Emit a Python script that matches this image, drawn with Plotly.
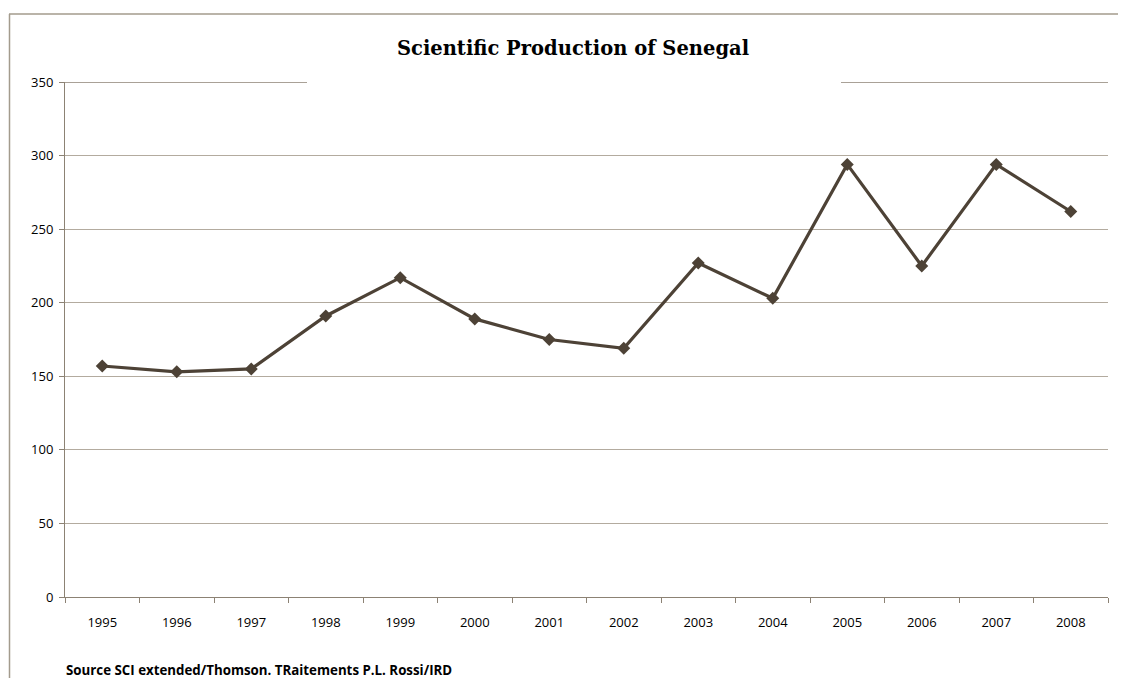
import plotly.graph_objects as go

years = ["1995", "1996", "1997", "1998", "1999", "2000", "2001",
         "2002", "2003", "2004", "2005", "2006", "2007", "2008"]
production = [157, 153, 155, 191, 217, 189, 175, 169, 227, 203, 294, 225, 294, 262]
y_ticks = [0, 50, 100, 150, 200, 250, 300, 350]
y_max = 350

# the page body has an 8px margin, so the figure is shifted by 8px
OFF = 8
W, H = 1126 - OFF, 678 - OFF
L, R, T, B = 65 - OFF, 18, 82 - OFF, 81
pw, ph = W - L - R, H - T - B

def px(x):
    return (x - OFF - L) / pw

def py(y):
    return (H - B - (y - OFF)) / ph

line_col = "#4d4236"
grid_col = "#b3ab9f"
axis_col = "#8c8274"
border_col = "#a39b8d"

fig = go.Figure()
fig.add_trace(go.Scatter(
    x=years, y=production, mode="lines+markers",
    line=dict(color=line_col, width=3.2),
    marker=dict(symbol="diamond", size=10, color=line_col),
    showlegend=False, hoverinfo="x+y"))

shapes = [
    dict(type="line", xref="paper", yref="paper", x0=px(9), x1=px(1130), y0=py(14), y1=py(14),
         line=dict(color=border_col, width=1.5)),
    dict(type="line", xref="paper", yref="paper", x0=px(9.5), x1=px(9.5), y0=py(14), y1=py(690),
         line=dict(color=border_col, width=1.5)),
    # top gridline, interrupted behind the title
    dict(type="line", xref="paper", yref="y", x0=0, x1=px(307), y0=y_max, y1=y_max,
         line=dict(color=axis_col, width=1.3)),
    dict(type="line", xref="paper", yref="y", x0=px(841), x1=1, y0=y_max, y1=y_max,
         line=dict(color=axis_col, width=1.3)),
]

fig.update_layout(
    width=W, height=H,
    margin=dict(l=L, r=R, t=T, b=B),
    paper_bgcolor="white", plot_bgcolor="white",
    title=dict(text="<b>Scientific Production of Senegal</b>",
               font=dict(family="DejaVu Serif", size=19.5, color="black"),
               x=(573 - OFF) / W, xanchor="center", y=1 - (48 - OFF) / H, yanchor="middle"),
    xaxis=dict(type="category", tickson="boundaries", ticks="outside", ticklen=5,
               tickcolor=axis_col, showline=True, linecolor=axis_col, linewidth=1,
               showgrid=False, tickfont=dict(family="Open Sans", size=13, color="black"),
               ticklabelstandoff=13,
               range=[-0.5, len(years) - 0.5], fixedrange=True),
    yaxis=dict(range=[0, y_max], tickvals=y_ticks, ticks="outside", ticklen=5,
               tickcolor=axis_col, showline=True, linecolor=axis_col, linewidth=1,
               showgrid=True, gridcolor=grid_col, gridwidth=1, zeroline=False,
               ticklabelstandoff=3,
               tickfont=dict(family="Open Sans", size=13, color="black"), fixedrange=True),
    shapes=shapes,
    annotations=[dict(text="<b>Source SCI extended/Thomson. TRaitements P.L. Rossi/IRD</b>",
                      xref="paper", yref="paper", x=px(64), y=py(670),
                      xanchor="left", yanchor="middle", showarrow=False,
                      font=dict(family="Open Sans", size=13.3, color="black"))],
)

fig.write_html("out.html")
